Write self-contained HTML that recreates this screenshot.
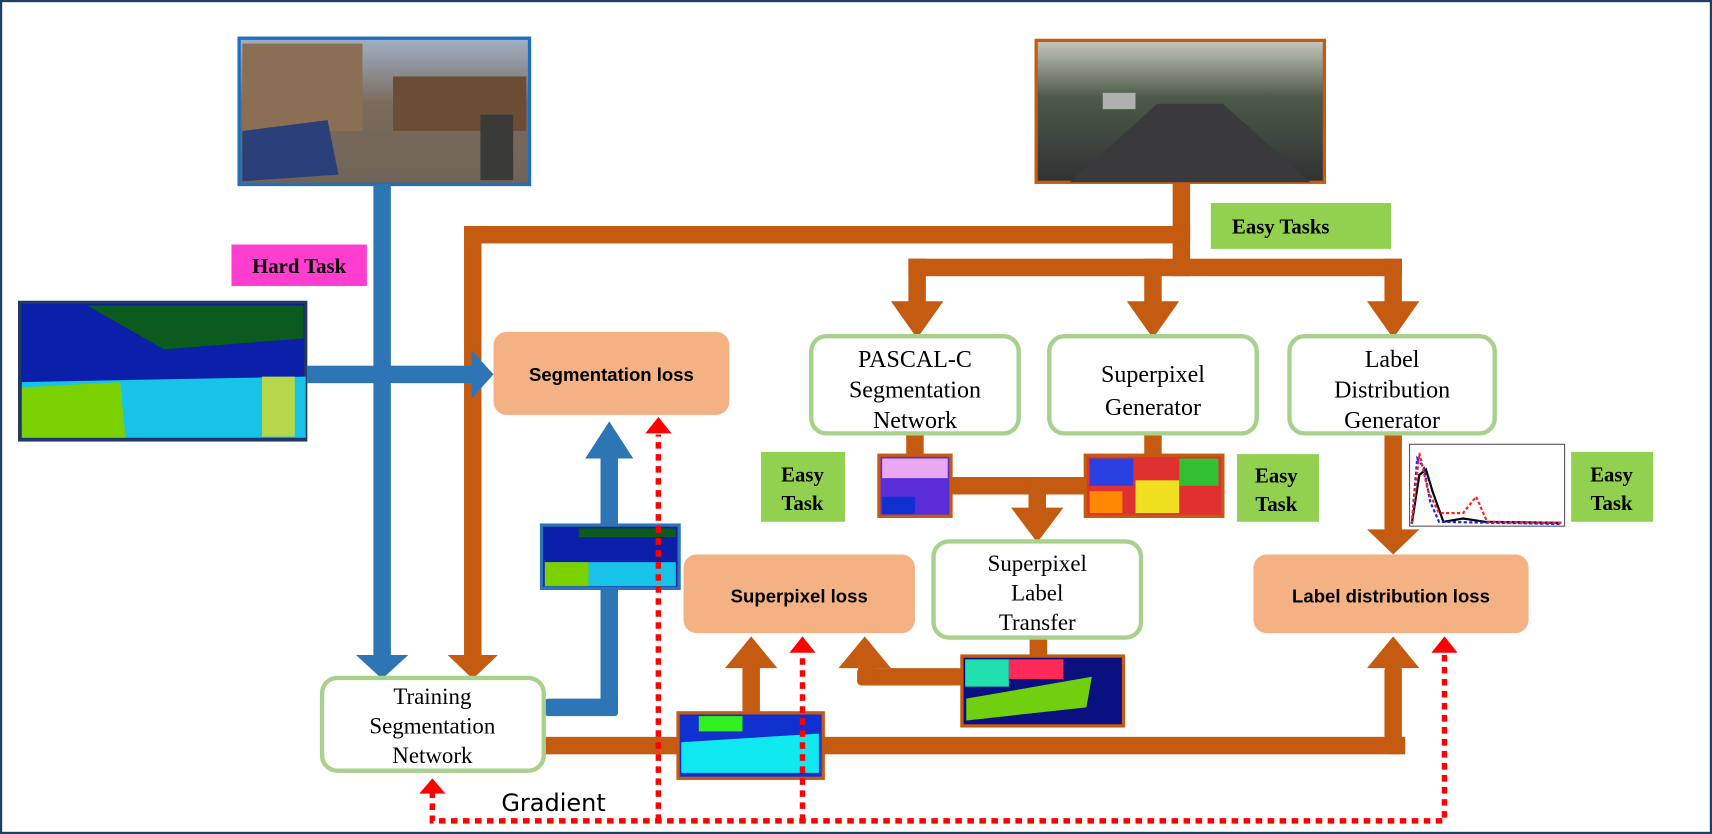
<!DOCTYPE html>
<html><head><meta charset="utf-8"><style>
html,body{margin:0;padding:0;background:#fff;}
svg{display:block;}
.t{font-family:"Liberation Serif",serif;fill:#000;text-anchor:middle;}
.s{font-family:"Liberation Sans",sans-serif;font-weight:bold;fill:#000;text-anchor:middle;}
</style></head><body>
<svg width="1712" height="834" viewBox="0 0 1568 764" preserveAspectRatio="none" xmlns="http://www.w3.org/2000/svg">
<rect x="1" y="1" width="1566" height="762" fill="#fff" stroke="#1f3f66" stroke-width="2"/>
<defs>
<linearGradient id="sky1" x1="0" y1="0" x2="0" y2="1"><stop offset="0" stop-color="#9fb0c8"/><stop offset="0.45" stop-color="#7b6b5a"/><stop offset="1" stop-color="#6e6458"/></linearGradient>
<linearGradient id="sky2" x1="0" y1="0" x2="0" y2="1"><stop offset="0" stop-color="#c8c8c0"/><stop offset="0.4" stop-color="#4d5a48"/><stop offset="1" stop-color="#2f3234"/></linearGradient>
</defs>
<rect x="219" y="35" width="266" height="134" fill="url(#sky1)" stroke="#1f6fc0" stroke-width="3"/>
<rect x="222" y="40" width="110" height="80" fill="#8a6f55"/>
<rect x="360" y="70" width="122" height="50" fill="#6b4d36"/>
<path d="M222 120 L300 110 L310 160 L222 166Z" fill="#2a3f7a"/>
<rect x="440" y="105" width="30" height="60" fill="#3a3a38"/>
<rect x="949" y="37" width="264" height="130" fill="url(#sky2)" stroke="#c55a11" stroke-width="3"/>
<path d="M980 167 L1060 95 L1120 95 L1200 167Z" fill="#3a3a3c"/>
<rect x="1010" y="85" width="30" height="15" fill="#b0b0b0"/>
<rect x="18" y="277" width="262" height="126" fill="#0b1fa8" stroke="#1f3864" stroke-width="3"/>
<path d="M80 280 L278 280 L278 310 L150 320Z" fill="#0b5a1e"/>
<path d="M20 350 L280 345 L280 401 L20 401Z" fill="#17c4e8"/>
<path d="M20 355 L110 350 L115 401 L20 401Z" fill="#7bd000"/>
<rect x="240" y="345" width="30" height="55" fill="#b4d84a"/>
<rect x="212" y="224" width="124" height="38" fill="#ff3dce"/>
<text x="274" y="250" class="t" font-size="19" font-weight="bold">Hard Task</text>
<rect x="1109" y="186" width="165" height="42" fill="#92d050"/>
<text x="1173" y="214" class="t" font-size="19" font-weight="bold">Easy Tasks</text>
<g fill="#c55a11">
<rect x="1074" y="168" width="16" height="85"/>
<rect x="425" y="207" width="665" height="16"/>
<rect x="425" y="207" width="16" height="395"/>
<polygon points="410,600 456,600 433,622"/>
<rect x="832" y="237" width="452" height="16"/>
<rect x="832" y="237" width="16" height="42"/>
<polygon points="816,276 864,276 840,310"/>
<rect x="1048" y="237" width="16" height="42"/>
<polygon points="1032,276 1080,276 1056,310"/>
<rect x="1268" y="237" width="16" height="42"/>
<polygon points="1252,276 1300,276 1276,310"/>
<rect x="830" y="398" width="16" height="20"/>
<rect x="1048" y="398" width="16" height="20"/>
<rect x="870" y="437" width="125" height="16"/>
<rect x="942" y="437" width="16" height="30"/>
<polygon points="926,465 974,465 950,497"/>
<rect x="1268" y="398" width="16" height="90"/>
<polygon points="1252,485 1300,485 1276,508"/>
<rect x="943" y="584" width="16" height="18"/>
<rect x="785" y="612" width="97" height="16" rx="4"/>
<rect x="786" y="605" width="16" height="20"/>
<polygon points="768,612 816,612 792,583"/>
<rect x="680" y="610" width="16" height="44"/>
<polygon points="664,612 712,612 688,583"/>
<rect x="497" y="675" width="790" height="16"/>
<rect x="1268" y="610" width="16" height="81" rx="4"/>
<polygon points="1252,612 1300,612 1276,583"/>
</g>
<g fill="#2e75b6">
<rect x="342" y="169" width="16" height="433"/>
<polygon points="326,600 374,600 350,622"/>
<rect x="281" y="335" width="152" height="16"/>
<polygon points="432,321 432,365 452,343"/>
<rect x="550" y="410" width="16" height="245" rx="3"/>
<rect x="499" y="640" width="67" height="16" rx="3"/>
<polygon points="536,420 580,420 558,386"/>
</g>
<g fill="#fff" stroke="#a9d18e" stroke-width="4">
<rect x="743" y="308" width="190" height="89" rx="14"/>
<rect x="961" y="308" width="190" height="89" rx="14"/>
<rect x="1181" y="308" width="188" height="89" rx="14"/>
<rect x="855" y="496" width="190" height="88" rx="14"/>
<rect x="295" y="621" width="203" height="85" rx="14"/>
</g>
<text class="t" font-size="22"><tspan x="838" y="336">PASCAL-C</tspan><tspan x="838" y="364">Segmentation</tspan><tspan x="838" y="392">Network</tspan></text>
<text class="t" font-size="22"><tspan x="1056" y="350">Superpixel</tspan><tspan x="1056" y="380">Generator</tspan></text>
<text class="t" font-size="22"><tspan x="1275" y="336">Label</tspan><tspan x="1275" y="364">Distribution</tspan><tspan x="1275" y="392">Generator</tspan></text>
<text class="t" font-size="21"><tspan x="950" y="523">Superpixel</tspan><tspan x="950" y="550">Label</tspan><tspan x="950" y="577">Transfer</tspan></text>
<text class="t" font-size="21"><tspan x="396" y="645">Training</tspan><tspan x="396" y="672">Segmentation</tspan><tspan x="396" y="699">Network</tspan></text>
<g fill="#f4b183">
<rect x="452" y="304" width="216" height="76" rx="12"/>
<rect x="626" y="508" width="212" height="72" rx="12"/>
<rect x="1148" y="508" width="252" height="72" rx="12"/>
</g>
<text x="560" y="349" class="s" font-size="17">Segmentation loss</text>
<text x="732" y="552" class="s" font-size="17">Superpixel loss</text>
<text x="1274" y="552" class="s" font-size="17">Label distribution loss</text>
<g fill="#92d050">
<rect x="697" y="414" width="77" height="64"/>
<rect x="1133" y="416" width="75" height="62"/>
<rect x="1439" y="414" width="75" height="64"/>
</g>
<text class="t" font-size="19" font-weight="bold"><tspan x="735" y="441">Easy</tspan><tspan x="735" y="467">Task</tspan></text>
<text class="t" font-size="19" font-weight="bold"><tspan x="1169" y="442">Easy</tspan><tspan x="1169" y="468">Task</tspan></text>
<text class="t" font-size="19" font-weight="bold"><tspan x="1476" y="441">Easy</tspan><tspan x="1476" y="467">Task</tspan></text>
<rect x="805" y="417" width="66" height="56" fill="#5a2dd8" stroke="#c55a11" stroke-width="3"/>
<rect x="808" y="420" width="60" height="18" fill="#e9a8f0"/>
<rect x="808" y="455" width="30" height="16" fill="#1030d0"/>
<rect x="994" y="417" width="126" height="56" fill="#e03030" stroke="#c55a11" stroke-width="3"/>
<rect x="998" y="420" width="40" height="25" fill="#2a40e0"/><rect x="1040" y="440" width="40" height="30" fill="#f0e020"/><rect x="1080" y="420" width="36" height="25" fill="#30c030"/><rect x="998" y="450" width="30" height="20" fill="#ff8800"/>
<rect x="496" y="481" width="126" height="58" fill="#0b1fa8" stroke="#2e75b6" stroke-width="3"/>
<rect x="499" y="515" width="120" height="22" fill="#17c4e8"/><rect x="499" y="515" width="40" height="22" fill="#7bd000"/><rect x="530" y="484" width="89" height="8" fill="#0b5a1e"/>
<rect x="881" y="601" width="148" height="64" fill="#0a1080" stroke="#c55a11" stroke-width="3"/>
<rect x="884" y="604" width="40" height="25" fill="#20e0b0"/><rect x="924" y="604" width="50" height="18" fill="#ff2a5a"/><path d="M885 640 L1000 620 L995 648 L885 660Z" fill="#70d010"/>
<rect x="621" y="653" width="133" height="60" fill="#1030d0" stroke="#c55a11" stroke-width="3"/>
<path d="M624 680 L750 672 L750 708 L624 708Z" fill="#10e8f0"/><rect x="640" y="656" width="40" height="14" fill="#30f020"/>
<rect x="1291" y="407" width="142" height="75" fill="#fff" stroke="#555" stroke-width="1"/>
<polyline points="1293,480 1300,435 1306,430 1312,450 1322,478 1340,475 1360,478 1430,479" fill="none" stroke="#000" stroke-width="2"/>
<polyline points="1293,480 1298,420 1304,428 1310,460 1318,478 1430,480" fill="none" stroke="#2020ff" stroke-width="2" stroke-dasharray="3,2"/>
<polyline points="1293,480 1300,415 1308,450 1318,470 1340,470 1352,455 1362,478 1430,479" fill="none" stroke="#ff2020" stroke-width="2" stroke-dasharray="3,2"/>
<g fill="none" stroke="#ff0000" stroke-width="5" stroke-dasharray="6,5">
<polyline points="396,725 396,752 1323,752 1323,598"/>
<line x1="603" y1="752" x2="603" y2="398"/>
<line x1="735" y1="752" x2="735" y2="598"/>
</g>
<g fill="#ff0000">
<polygon points="384,727 408,727 396,713"/>
<polygon points="591,397 615,397 603,382"/>
<polygon points="723,598 747,598 735,583"/>
<polygon points="1311,598 1335,598 1323,583"/>
</g>
<text x="507" y="743" font-family="DejaVu Sans, sans-serif" font-size="22" text-anchor="middle" fill="#000">Gradient</text>
</svg>
</body></html>
